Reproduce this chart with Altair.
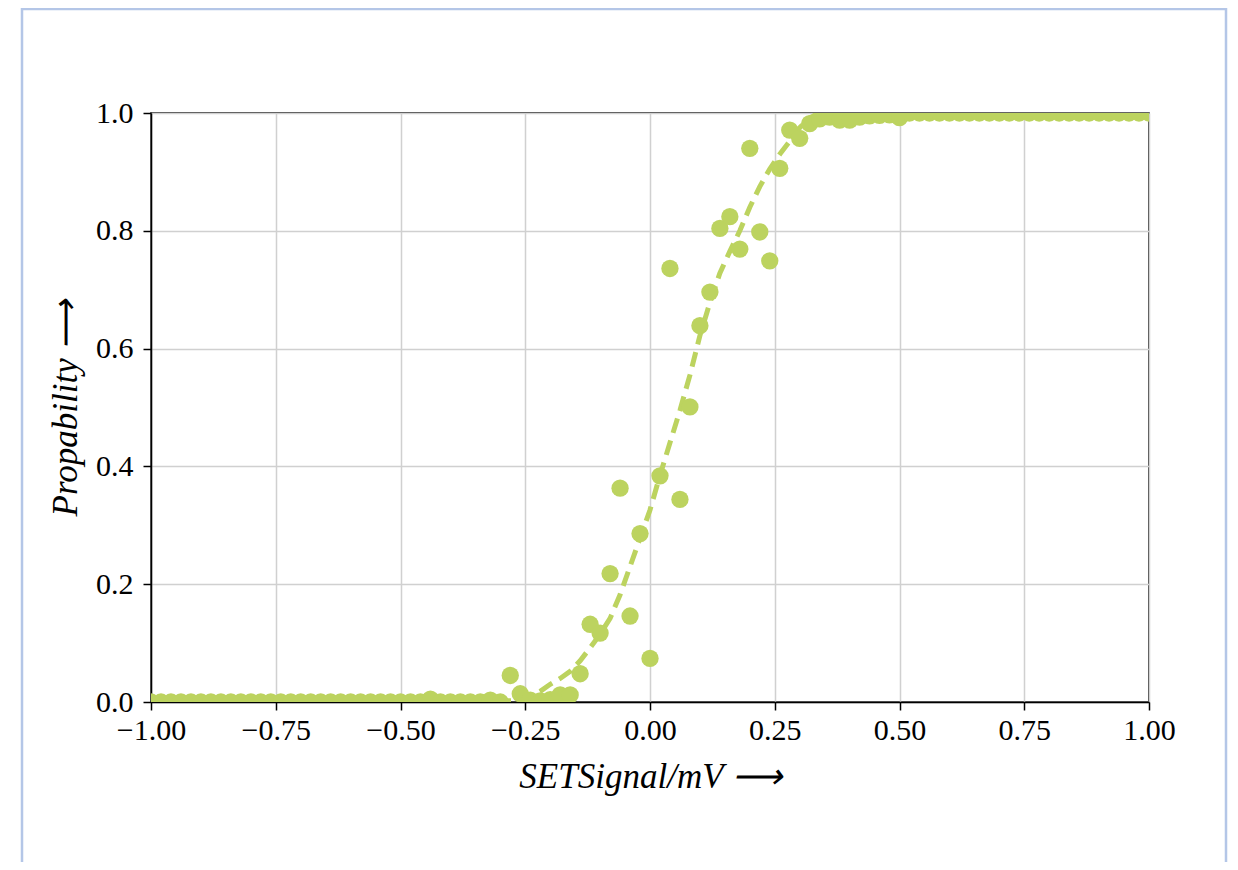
import altair as alt
import pandas as pd

# ---- data ----
signal = [
    -1.00, -0.98, -0.96, -0.94, -0.92, -0.90, -0.88, -0.86, -0.84, -0.82,
    -0.80, -0.78, -0.76, -0.74, -0.72, -0.70, -0.68, -0.66, -0.64, -0.62,
    -0.60, -0.58, -0.56, -0.54, -0.52, -0.50, -0.48, -0.46, -0.44, -0.42,
    -0.40, -0.38, -0.36, -0.34, -0.32, -0.30, -0.28, -0.26, -0.24, -0.22,
    -0.20, -0.18, -0.16, -0.14, -0.12, -0.10, -0.08, -0.06, -0.04, -0.02,
    0.00, 0.02, 0.04, 0.06, 0.08, 0.10, 0.12, 0.14, 0.16, 0.18,
    0.20, 0.22, 0.24, 0.26, 0.28, 0.30, 0.32, 0.34, 0.36, 0.38,
    0.40, 0.42, 0.44, 0.46, 0.48, 0.50, 0.52, 0.54, 0.56, 0.58,
    0.60, 0.62, 0.64, 0.66, 0.68, 0.70, 0.72, 0.74, 0.76, 0.78,
    0.80, 0.82, 0.84, 0.86, 0.88, 0.90, 0.92, 0.94, 0.96, 0.98,
    1.00,
]
probability = [
    0.0, 0.0, 0.0, 0.0, 0.0, 0.0, 0.0, 0.0, 0.0, 0.0,
    0.0, 0.0, 0.0, 0.0, 0.0, 0.0, 0.0, 0.0, 0.0, 0.0,
    0.0, 0.0, 0.0, 0.0, 0.0, 0.0, 0.0, 0.0, 0.005, 0.0,
    0.0, 0.0, 0.0, 0.0, 0.003, 0.0, 0.045, 0.014, 0.003, 0.002,
    0.004, 0.012, 0.012, 0.048, 0.132, 0.117, 0.218, 0.363, 0.146, 0.286,
    0.074, 0.384, 0.736, 0.344, 0.501, 0.639, 0.696, 0.804, 0.824, 0.769,
    0.940, 0.798, 0.749, 0.906, 0.971, 0.957, 0.982, 0.990, 0.993, 0.988,
    0.988, 0.993, 0.995, 0.996, 0.997, 0.992, 1.0, 1.0, 1.0, 1.0,
    1.0, 1.0, 1.0, 1.0, 1.0, 1.0, 1.0, 1.0, 1.0, 1.0,
    1.0, 1.0, 1.0, 1.0, 1.0, 1.0, 1.0, 1.0, 1.0, 1.0,
    1.0,
]

fit_signal = [
    -1.00, -0.26, -0.24, -0.22, -0.20, -0.18, -0.16, -0.14, -0.12, -0.10,
    -0.08, -0.06, -0.04, -0.02, 0.00, 0.02, 0.04, 0.06, 0.08, 0.10,
    0.12, 0.14, 0.16, 0.18, 0.20, 0.22, 0.24, 0.26, 0.28, 0.30,
    0.32, 0.34, 1.00,
]
fit_probability = [
    0.0, 0.002, 0.008, 0.018, 0.030, 0.040, 0.052, 0.070, 0.092, 0.115,
    0.142, 0.182, 0.230, 0.278, 0.326, 0.385, 0.440, 0.495, 0.555, 0.622,
    0.678, 0.728, 0.765, 0.800, 0.840, 0.875, 0.905, 0.930, 0.952, 0.975,
    0.992, 1.0, 1.0,
]

x_ticks = [-1.0, -0.75, -0.5, -0.25, 0.0, 0.25, 0.5, 0.75, 1.0]
y_ticks = [0.0, 0.2, 0.4, 0.6, 0.8, 1.0]

GREEN = "#bcd35f"
FONT = "Liberation Serif"

pts = pd.DataFrame({"x": signal, "y": probability})
fit = pd.DataFrame({"x": fit_signal, "y": fit_probability})

xscale = alt.Scale(domain=[-1, 1], nice=False, zero=False)
yscale = alt.Scale(domain=[0, 1], nice=False)

xaxis = alt.Axis(
    values=x_ticks, format=".2f", title="SETSignal/mV ⟶",
    titleFontStyle="italic", titleFontWeight="normal", titleFontSize=35,
    titleFont=FONT, titleY=85, titleBaseline="alphabetic", titleColor="black",
    labelFont=FONT, labelFontSize=30, labelColor="black", labelPadding=5,
    tickSize=8, tickColor="black", tickWidth=1.5,
    domainColor="black", domainWidth=1.5,
    grid=True, gridColor="#d0d0d0", gridWidth=1.5,
    labelFlush=False,
)
yaxis = alt.Axis(
    values=y_ticks, format=".1f", title="Propability ⟶",
    titleFontStyle="italic", titleFontWeight="normal", titleFontSize=35,
    titleFont=FONT, titleX=-75, titleBaseline="alphabetic", titleColor="black",
    labelFont=FONT, labelFontSize=30, labelColor="black", labelPadding=10,
    tickSize=8, tickColor="black", tickWidth=1.5,
    domainColor="black", domainWidth=1.5,
    grid=True, gridColor="#d0d0d0", gridWidth=1.5,
    labelFlush=False,
)

frame = alt.Chart(alt.Data(values=[{"k": 1}])).mark_rect(
    fillOpacity=0, stroke="#b4c6e7", strokeWidth=2.5, clip=False
).encode(
    x=alt.value(-129), x2=alt.value(1075), y=alt.value(-104), y2=alt.value(800)
)

line = alt.Chart(fit).mark_line(
    color=GREEN, strokeWidth=5, strokeDash=[15, 8], clip=True
).encode(
    x=alt.X("x:Q", scale=xscale, axis=xaxis),
    y=alt.Y("y:Q", scale=yscale, axis=yaxis),
)

points = alt.Chart(pts).mark_circle(
    color=GREEN, size=300, opacity=1, clip=True
).encode(
    x=alt.X("x:Q", scale=xscale),
    y=alt.Y("y:Q", scale=yscale),
)

chart = alt.layer(frame, line, points).properties(
    width=998, height=589,
    autosize=alt.AutoSizeParams(type="none"),
    padding={"left": 143, "top": 105, "right": 80, "bottom": 160},
    background="white",
).configure_view(stroke="black", strokeWidth=1.5)

chart.save("out.html", embed_options={"renderer": "svg", "actions": False})
